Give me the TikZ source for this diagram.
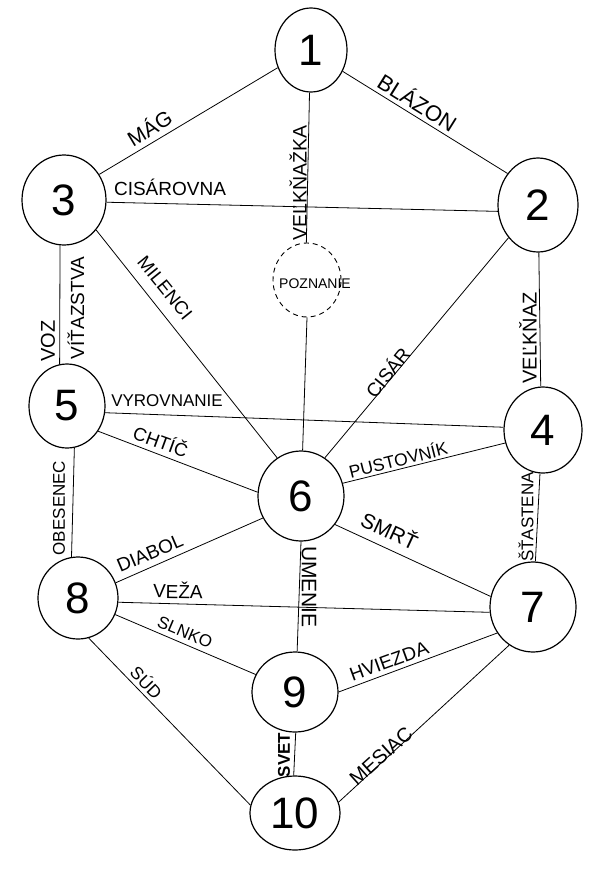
\documentclass[tikz,border=0pt]{standalone}
\usepackage{fontspec}
\setmainfont{Liberation Sans}
\usetikzlibrary{shapes.geometric}
\tikzset{
  sefira/.style={ellipse, draw, line width=1.2pt, inner sep=0pt, font=\fontsize{44}{44}\selectfont},
  hidden/.style={ellipse, draw, dashed, dash pattern=on 5pt off 4pt, line width=0.9pt, inner sep=0pt},
  conn/.style={line width=0.8pt},
  lbl/.style={font=\fontsize{#1}{#1}\selectfont, inner sep=0pt},
  lbl/.default=19
}
\begin{document}
\begin{tikzpicture}[x=1pt, y=-1pt]
\useasboundingbox[fill=white] (0,0) rectangle (595,891);
% sefirot
\node[sefira, minimum width=72pt, minimum height=84pt] (n1) at (311,50) {1};
\node[sefira, minimum width=80pt, minimum height=94pt] (n2) at (538,205) {2};
\node[sefira, minimum width=84pt, minimum height=90pt] (n3) at (64,200) {3};
\node[hidden, minimum width=68pt, minimum height=74pt] (nP) at (307,280) {};
\node[font=\fontsize{14}{14}\selectfont, inner sep=0pt] (nPtext) at (315,284) {POZNANIE};
\node[sefira, minimum width=76pt, minimum height=84pt] (n5) at (67,406) {5};
\node[sefira, minimum width=78pt, minimum height=86pt] (n4) at (543,430) {4};
\node[sefira, minimum width=86pt, minimum height=90pt] (n6) at (301,496) {6};
\node[sefira, minimum width=80pt, minimum height=82pt] (n8) at (78,598) {8};
\node[sefira, minimum width=86pt, minimum height=90pt] (n7) at (533,607) {7};
\node[sefira, minimum width=86pt, minimum height=80pt] (n9) at (295,692) {9};
\node[sefira, minimum width=90pt, minimum height=74pt] (n10) at (295,813) {10};
% paths
\draw[conn] (n1.208) -- (n3.36);
\draw[conn] (n1.-34) -- (n2.134);
\draw[conn] (n1.-92) -- (nP.91);
\draw[conn] (n3.-3) -- (n2.-171);
\draw[conn] (n3.-95) -- (n5.100);
\draw[conn] (n3.-43) -- (n6.122);
\draw[conn] (n2.-89) -- (n4.93);
\draw[conn] (n2.-132) -- (n6.58);
\draw[conn] (nP.-90) -- (n6.88);
\draw[conn] (n5.-10) -- (n4.176);
\draw[conn] (n5.-39) -- (n6.175);
\draw[conn] (n4.199) -- (n6.17);
\draw[conn] (n5.-80) -- (n8.99);
\draw[conn] (n4.-94) -- (n7.87);
\draw[conn] (n6.210) -- (n8.22);
\draw[conn] (n6.-40) -- (n7.166);
\draw[conn] (n6.-90) -- (n9.87);
\draw[conn] (n8.-6) -- (n7.187);
\draw[conn] (n8.-24) -- (n9.156);
\draw[conn] (n8.-75) -- (n10.170);
\draw[conn] (n9.0) -- (n7.216);
\draw[conn] (n9.-89) -- (n10.92);
\draw[conn] (n7.-122) -- (n10.14);
% labels
\node[lbl=21, rotate=31] (lMag) at (149,127) {MÁG};
\node[lbl=22, rotate=-32] (lBlazon) at (418,102) {BLÁZON};
\node[lbl=19.5, rotate=90] (lVelknazka) at (298,183) {VEĽKŇAŽKA};
\node[lbl=19] (lCisarovna) at (170,187) {CISÁROVNA};
\node[lbl=18.5, rotate=-51] (lMilenci) at (165,288) {MILENCI};
\node[lbl=20, rotate=90] (lVoz) at (48,341) {VOZ};
\node[lbl=19, rotate=90] (lVitazstva) at (76,308) {VÍŤAZSTVA};
\node[lbl=20, rotate=90] (lVelknaz) at (528,338) {VEĽKŇAZ};
\node[lbl=19, rotate=51] (lCisar) at (387,372) {CISÁR};
\node[lbl=17] (lVyrovnanie) at (167,401) {VYROVNANIE};
\node[lbl=18.5, rotate=-20] (lChtic) at (161,441) {CHTÍČ};
\node[lbl=17.5, rotate=14] (lPustovnik) at (398,459) {PUSTOVNÍK};
\node[lbl=17, rotate=90] (lObesenec) at (59,508) {OBESENEC};
\node[lbl=17, rotate=90] (lStastena) at (526,517) {ŠŤASTENA};
\node[lbl=19, rotate=23] (lDiabol) at (150,553) {DIABOL};
\node[lbl=21, rotate=-25] (lSmrt) at (390,530) {SMRŤ};
\node[lbl=21, rotate=-90] (lUmenie) at (309,587) {UMENIE};
\node[lbl=19, rotate=-1] (lVeza) at (178,590) {VEŽA};
\node[lbl=17, rotate=-23] (lSlnko) at (185,632) {SLNKO};
\node[lbl=17.5, rotate=-46] (lSud) at (147,682) {SÚD};
\node[lbl=19, rotate=20] (lHviezda) at (389,661) {HVIEZDA};
\node[lbl=17, rotate=90, font=\fontsize{17}{17}\selectfont\bfseries] (lSvet) at (284,755) {SVET};
\node[lbl=20, rotate=42] (lMesiac) at (381,756) {MESIAC};
\end{tikzpicture}
\end{document}
